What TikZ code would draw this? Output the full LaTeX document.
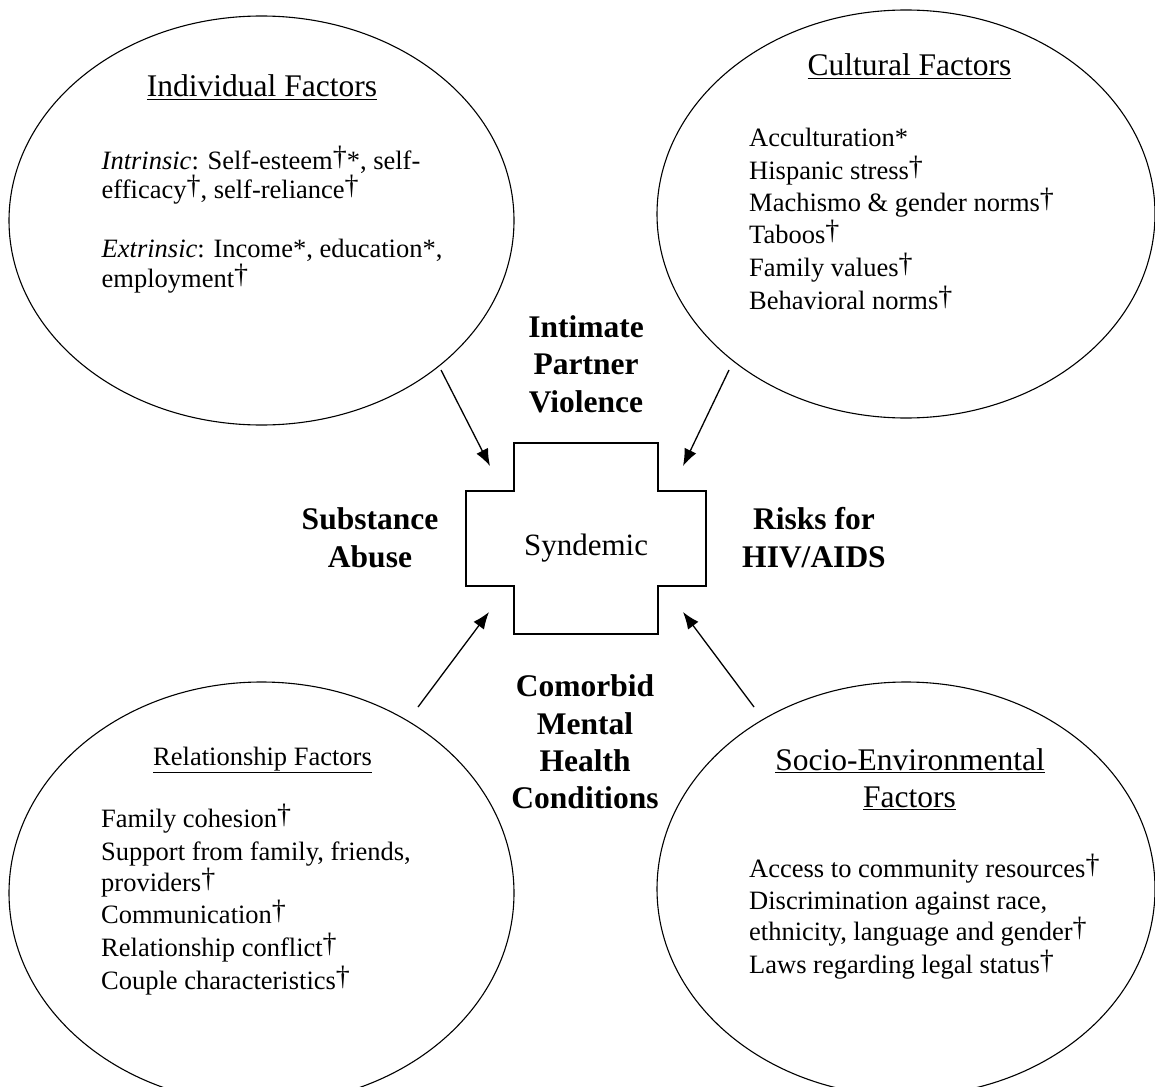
\documentclass[tikz,border=0pt]{standalone}
\usepackage{fontspec}
\setmainfont{Liberation Serif}
\usetikzlibrary{shapes.geometric,arrows.meta}
\newcommand{\dg}{\raisebox{4pt}[0pt][0pt]{\fontsize{28}{28}\selectfont †}}
\tikzset{
  ell/.style={ellipse, draw, line width=1.1pt, inner sep=0pt, outer sep=0pt},
  body/.style={font=\fontsize{26.5}{30}\selectfont, anchor=base west, inner sep=0pt},
  ttl/.style={font=\fontsize{31.5}{36}\selectfont, anchor=base, inner sep=0pt},
  ttlsmall/.style={font=\fontsize{26.5}{30}\selectfont, anchor=base, inner sep=0pt},
  lbl/.style={font=\fontsize{31.5}{36}\selectfont\bfseries, anchor=base, inner sep=0pt},
  conn/.style={line width=1.3pt, -{Latex[length=17pt,width=13pt]}},
  crossline/.style={line width=1.4pt}
}
\begin{document}
\begin{tikzpicture}[x=1pt,y=-1pt]
\useasboundingbox (0,0) rectangle (1155,1086);
% ellipses
\node[ell, minimum width=505pt, minimum height=409pt] (indiv) at (261.5,220.5) {};
\node[ell, minimum width=498pt, minimum height=408pt] (cult) at (906,214) {};
\node[ell, minimum width=505pt, minimum height=422pt] (rel) at (261.5,893) {};
\node[ell, minimum width=498pt, minimum height=414pt] (socio) at (906,889) {};
% cross
\draw[crossline] (466,491) -- (514,491) -- (514,443) -- (658,443) -- (658,491) -- (706,491) -- (706,586) -- (658,586) -- (658,634) -- (514,634) -- (514,586) -- (466,586) -- cycle;
\node[font=\fontsize{31}{36}\selectfont, anchor=base, inner sep=0pt] (syn) at (586,555) {Syndemic};
% arrows
\coordinate (a1s) at (441,370); \coordinate (a1e) at (490,466);
\coordinate (a2s) at (729,370); \coordinate (a2e) at (683,466);
\coordinate (a3s) at (418,707); \coordinate (a3e) at (489,612);
\coordinate (a4s) at (754,707); \coordinate (a4e) at (683,612);
\draw[conn] (a1s) -- (a1e);
\draw[conn] (a2s) -- (a2e);
\draw[conn] (a3s) -- (a3e);
\draw[conn] (a4s) -- (a4e);
% bold labels
\node[lbl] (ipv1) at (586,337) {Intimate};
\node[lbl] (ipv2) at (586,374) {Partner};
\node[lbl] (ipv3) at (586,412) {Violence};
\node[lbl] (sa1) at (370,529) {Substance};
\node[lbl] (sa2) at (370,567) {Abuse};
\node[lbl] (rk1) at (814,529) {Risks for};
\node[lbl] (rk2) at (814,567) {HIV/AIDS};
\node[lbl] (cm1) at (585,696) {Comorbid};
\node[lbl] (cm2) at (585,734) {Mental};
\node[lbl] (cm3) at (585,771) {Health};
\node[lbl] (cm4) at (585,808) {Conditions};
% individual
\node[ttl] (ti) at (262,97) {\underline{Individual Factors}};
\node[body] (i1) at (101.5,169) {\textit{Intrinsic}: Self-esteem\dg*, self-};
\node[body] (i2) at (101.5,198.8) {efficacy\dg, self-reliance\dg};
\node[body] (i3) at (101.5,257.5) {\textit{Extrinsic}: Income*, education*,};
\node[body] (i4) at (101.5,287) {employment\dg};
% cultural
\node[ttl] (tc) at (909.5,76) {\underline{Cultural Factors}};
\node[body] (c1) at (749,146.7) {Acculturation*};
\node[body] (c2) at (749,179) {Hispanic stress\dg};
\node[body] (c3) at (749,211.7) {Machismo \& gender norms\dg};
\node[body] (c4) at (749,243.3) {Taboos\dg};
\node[body] (c5) at (749,276.7) {Family values\dg};
\node[body] (c6) at (749,309.3) {Behavioral norms\dg};
% relationship
\node[ttlsmall] (tr) at (262.5,765) {\underline{Relationship Factors}};
\node[body] (r1) at (101,827) {Family cohesion\dg};
\node[body] (r2) at (101,860.5) {Support from family, friends,};
\node[body] (r3) at (101,891) {providers\dg};
\node[body] (r4) at (101,923.5) {Communication\dg};
\node[body] (r5) at (101,956) {Relationship conflict\dg};
\node[body] (r6) at (101,989) {Couple characteristics\dg};
% socio-environmental
\node[ttl] (ts1) at (910,770) {\underline{Socio-Environmental}};
\node[ttl] (ts2) at (909.5,807) {\underline{Factors}};
\node[body] (s1) at (749,877) {Access to community resources\dg};
\node[body] (s2) at (749,909) {Discrimination against race,};
\node[body] (s3) at (749,940) {ethnicity, language and gender\dg};
\node[body] (s4) at (749,973) {Laws regarding legal status\dg};
\end{tikzpicture}
\end{document}
